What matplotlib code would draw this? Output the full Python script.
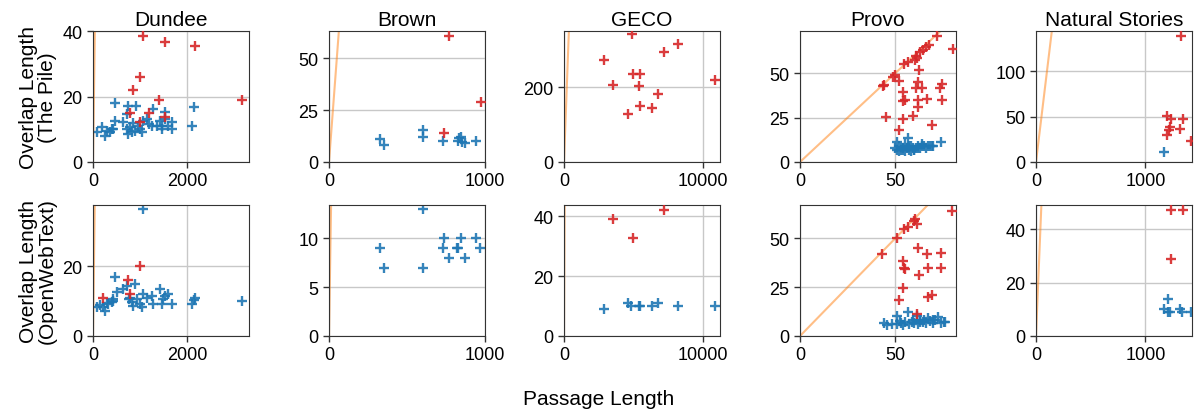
import matplotlib.pyplot as plt
import numpy as np

plt.rcParams['font.family'] = ['Liberation Sans', 'DejaVu Sans']

datasets = ['Dundee', 'Brown', 'GECO', 'Provo', 'Natural Stories']
row_labels = ['Overlap Length\n(The Pile)', 'Overlap Length\n(OpenWebText)']

# ---- The Pile ----
dundee_pile_blue_x = [78, 185, 256, 362, 433, 468, 468, 752, 908, 717, 646, 788, 823, 894, 1000, 1035,
                      1071, 1142, 1283, 1248, 1425, 1461, 1532, 1532, 1674, 1674, 1461, 2100, 2157, 1354,
                      717, 752, 300, 400, 950, 860, 1200, 1600]
dundee_pile_blue_y = [9.1, 10.6, 8, 9.1, 10.1, 12.7, 18, 17, 17, 14.7, 12.1, 10.6, 9.1, 9.6, 10.1, 9.1,
                      12.7, 13.2, 16.2, 11.1, 12.7, 11.1, 15.2, 13.2, 12.1, 10.1, 10.1, 11.1, 16.7, 11.1,
                      10.1, 8.6, 9.5, 10, 11, 12, 11.5, 11]
dundee_pile_red_x = [1071, 1532, 2171, 1000, 844, 788, 1000, 1200, 1411, 1532, 3163]
dundee_pile_red_y = [38.7, 36.8, 35.6, 25.9, 22, 14.9, 12.1, 14.9, 19, 13.7, 19]

brown_pile_blue_x = [326, 352, 605, 605, 732, 824, 835, 845, 850, 873, 942]
brown_pile_blue_y = [11, 8.2, 15.6, 11.9, 10, 10, 11.4, 12, 9.8, 9, 10]
brown_pile_red_x = [740, 770, 974]
brown_pile_red_y = [14, 61, 29]

geco_pile_blue_x = []
geco_pile_blue_y = []
geco_pile_red_x = [4880, 2871, 7177, 8206, 3541, 4952, 5431, 5383, 10837, 6746, 5502, 6316, 4617]
geco_pile_red_y = [343, 272, 296, 317, 206, 236, 236, 204, 221, 183, 150, 146, 128]

provo_pile_blue_x = [50, 51, 52, 53, 54, 55, 56, 57, 58, 59, 60, 61, 62, 63, 64, 65, 66, 67, 68, 69,
                     70, 74, 50.7, 56.8, 52, 54, 58, 60, 62, 64, 55, 57]
provo_pile_blue_y = [8, 7, 9, 7, 8, 6, 8, 7, 9, 8, 7, 8, 9, 8, 10, 9, 8, 9, 9, 9,
                     9, 11, 11.4, 13.3, 6, 7, 6, 7, 8, 9, 10, 9]
provo_pile_red_x = [71.7, 67.8, 66.1, 64.7, 62.9, 60.8, 60.3, 56.8, 54.5, 80.1, 62.6, 49.8, 48.6, 52.1,
                    43.4, 62, 60.8, 63.8, 74.3, 73.4, 53.8, 55.1, 54.2, 62, 66.8, 74.3, 62, 45.1, 53.8,
                    59.1, 69.1, 52.1, 44, 61.5]
provo_pile_red_y = [71.1, 65.8, 64.5, 63.2, 61.7, 59.8, 57.6, 56.1, 55.2, 63.6, 51.9, 49, 47.7, 45.8,
                    42.6, 44.8, 41.5, 41.5, 43.9, 41.5, 39.2, 35.1, 34.5, 35.1, 35.5, 35.1, 30.8, 25.2,
                    24.2, 25.7, 20.8, 18.2, 43.5, 58.5]

ns_pile_blue_x = [1171]
ns_pile_blue_y = [11.4]
ns_pile_red_x = [1327, 1199, 1230, 1224, 1193, 1312, 1345, 1413, 1215]
ns_pile_red_y = [139.5, 51, 47.6, 39, 30, 36.5, 47, 23.6, 35]

# ---- OpenWebText ----
dundee_owt_blue_x = [78, 149, 220, 256, 327, 398, 433, 468, 504, 646, 717, 894, 788, 823, 859, 1000,
                     1035, 1071, 1142, 1248, 1283, 1425, 1461, 1532, 1603, 1674, 2100, 2171, 2157, 3163,
                     930, 1071, 300, 420, 760, 1500]
dundee_owt_blue_y = [8.2, 8.9, 8.2, 7.2, 9.1, 9.6, 10.6, 17, 12.5, 13.4, 14.4, 15, 11, 9.6, 8.7, 9.1,
                     8.2, 36.3, 11, 11.5, 9.1, 13.4, 9.1, 11.5, 12, 9.1, 9.1, 11, 10.3, 10.1,
                     10.6, 12, 9.5, 10, 10.5, 10.5]
dundee_owt_red_x = [220, 752, 1000, 788]
dundee_owt_red_y = [11, 16.1, 20.1, 12]

brown_owt_blue_x = [326, 352, 605, 605, 740, 732, 770, 818, 828, 845, 869, 942, 970]
brown_owt_blue_y = [9, 7, 13, 7, 10, 9, 8, 9, 9, 10, 8, 10, 9]
brown_owt_red_x = []
brown_owt_red_y = []

geco_owt_blue_x = [2871, 4617, 4833, 5383, 5502, 6316, 6746, 8206, 10837]
geco_owt_blue_y = [9, 11, 10, 10, 10, 10, 11, 10, 10]
geco_owt_red_x = [3541, 4952, 7177]
geco_owt_red_y = [39, 32.9, 42]

provo_owt_blue_x = [44.2, 45.4, 50.7, 50.7, 52.4, 54.2, 56.8, 58.6, 61.2, 62.9, 64.7, 67.3, 72.5, 75.5,
                    69.6, 48, 53, 55, 57, 59, 60, 63, 65, 66, 68, 70, 71, 74, 76, 62]
provo_owt_blue_y = [6.6, 5.6, 10.4, 6.1, 7.8, 5.6, 12.4, 7.3, 10.4, 8.3, 7, 9, 9.5, 7,
                    8.3, 6, 6.5, 7, 6, 8, 6.5, 7, 8, 6.5, 7.5, 6.5, 8, 6.5, 7, 6]
provo_owt_red_x = [43.2, 50.9, 54.7, 56.8, 59.8, 61.2, 79.9, 62, 66.4, 73.9, 53.8, 54.7, 55.2, 67, 73.8,
                   62.2, 53.8, 52.1, 67.3, 69, 61.2, 60.5]
provo_owt_red_y = [41.8, 50, 54.6, 55.8, 58.8, 57.1, 64, 45, 41.8, 42.2, 38.3, 34.9, 34.2, 35, 35,
                   31, 24.3, 18.2, 20, 20.9, 11.2, 60]

ns_owt_blue_x = [1208, 1168, 1208, 1223, 1312, 1336, 1413]
ns_owt_blue_y = [14, 10, 9, 9, 10, 9, 9]
ns_owt_red_x = [1235, 1345, 1229]
ns_owt_red_y = [47.1, 47.1, 29]

blue_x = [[dundee_pile_blue_x, brown_pile_blue_x, geco_pile_blue_x, provo_pile_blue_x, ns_pile_blue_x],
          [dundee_owt_blue_x, brown_owt_blue_x, geco_owt_blue_x, provo_owt_blue_x, ns_owt_blue_x]]
blue_y = [[dundee_pile_blue_y, brown_pile_blue_y, geco_pile_blue_y, provo_pile_blue_y, ns_pile_blue_y],
          [dundee_owt_blue_y, brown_owt_blue_y, geco_owt_blue_y, provo_owt_blue_y, ns_owt_blue_y]]
red_x = [[dundee_pile_red_x, brown_pile_red_x, geco_pile_red_x, provo_pile_red_x, ns_pile_red_x],
         [dundee_owt_red_x, brown_owt_red_x, geco_owt_red_x, provo_owt_red_x, ns_owt_red_x]]
red_y = [[dundee_pile_red_y, brown_pile_red_y, geco_pile_red_y, provo_pile_red_y, ns_pile_red_y],
         [dundee_owt_red_y, brown_owt_red_y, geco_owt_red_y, provo_owt_red_y, ns_owt_red_y]]

# axis limits and ticks
x_max = [3320, 1000, 11220, 81.8, 1425]
x_ticks = [[0, 2000], [0, 1000], [0, 10000], [0, 50], [0, 1000]]
y_max = [[40.1, 63.2, 351, 73.7, 144.6], [37.5, 13.4, 43.8, 67, 49.1]]
y_ticks = [[[0, 20, 40], [0, 25, 50], [0, 200], [0, 25, 50], [0, 50, 100]],
           [[0, 20], [0, 5, 10], [0, 20, 40], [0, 25, 50], [0, 20, 40]]]

fig = plt.figure(figsize=(11.98, 4.14), dpi=100)
W, H = 1198, 414
lefts = [93, 329, 564, 800, 1036]
tops = [32, 206]

for r in range(2):
    for c in range(5):
        ax = fig.add_axes([lefts[c] / W, (H - tops[r] - 131) / H, 156 / W, 131 / H])
        # y = x reference line
        line_end = max(x_max[c], y_max[r][c]) * 2
        ax.plot([0, line_end], [0, line_end], color='tab:orange', alpha=0.5, lw=1.5, zorder=1)
        ax.scatter(blue_x[r][c], blue_y[r][c], marker='+', color='tab:blue', s=60, linewidths=1.7,
                   alpha=0.9, zorder=2)
        ax.scatter(red_x[r][c], red_y[r][c], marker='+', color='tab:red', s=60, linewidths=1.7,
                   alpha=0.9, zorder=3)
        ax.set_xlim(0, x_max[c])
        ax.set_ylim(0, y_max[r][c])
        ax.set_xticks(x_ticks[c])
        ax.set_yticks(y_ticks[r][c])
        ax.grid(True, color='#c8c8c8', lw=1)
        ax.set_axisbelow(True)
        ax.tick_params(labelsize=13, length=4, width=1, color='#333333')
        for s in ax.spines.values():
            s.set_color('#333333')
        if r == 0:
            ax.set_title(datasets[c], fontsize=15, pad=4)
        if c == 0:
            ax.set_ylabel(row_labels[r], fontsize=15, linespacing=1.0, labelpad=4)

fig.text(0.5, 0.035, 'Passage Length', ha='center', va='center', fontsize=15)
fig.savefig('out.png', dpi=100)
